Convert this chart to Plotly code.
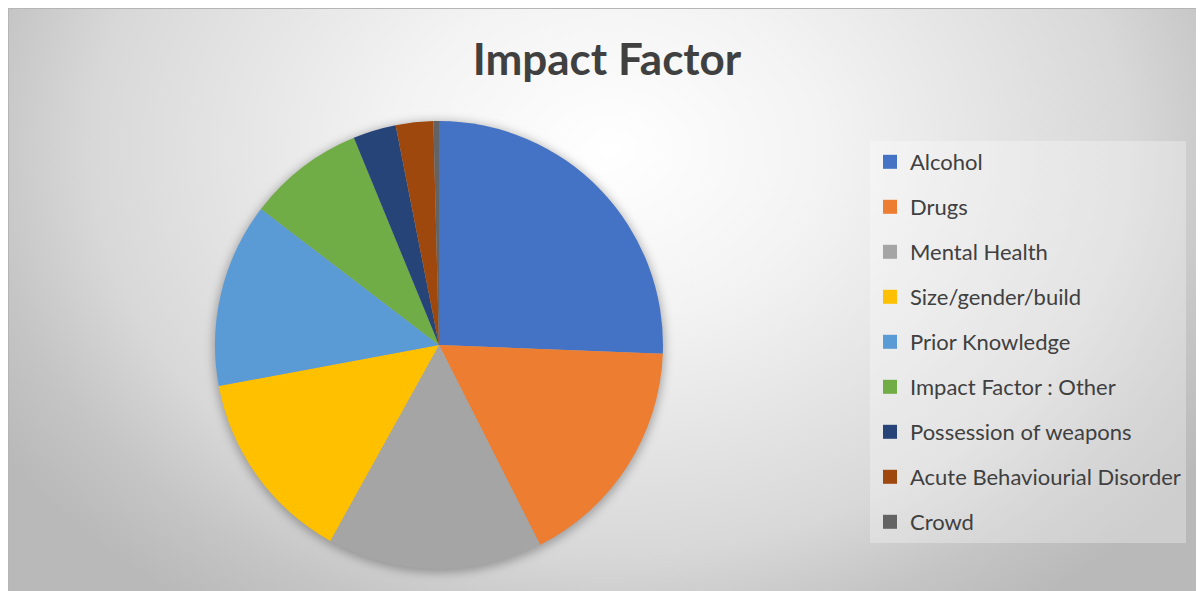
import base64
import plotly.graph_objects as go

# ---- data ----
labels = ["Alcohol", "Drugs", "Mental Health", "Size/gender/build", "Prior Knowledge",
          "Impact Factor : Other", "Possession of weapons", "Acute Behaviourial Disorder", "Crowd"]
values = [25.6, 16.9, 15.5, 14.0, 13.3, 8.4, 3.1, 2.7, 0.4]
colors = ["#4472C4", "#ED7D31", "#A5A5A5", "#FFC000", "#5B9BD5",
          "#70AD47", "#264478", "#9E480E", "#636363"]
title_text = "Impact Factor"

W, H = 1204, 591

# ---- background (radial gradient + soft pie shadow) as svg ----
svg = f'''<svg xmlns="http://www.w3.org/2000/svg" width="{W}" height="{H}" viewBox="0 0 {W} {H}" preserveAspectRatio="none">
<defs>
<radialGradient id="g" gradientUnits="userSpaceOnUse" cx="0" cy="0" r="1"
 gradientTransform="translate(602,142) scale(720,560)">
<stop offset="0" stop-color="#ffffff"/>
<stop offset="0.3" stop-color="#f3f3f3"/>
<stop offset="0.72" stop-color="#d8d8d8"/>
<stop offset="0.87" stop-color="#c5c5c5"/>
<stop offset="1" stop-color="#b9b9b9"/>
</radialGradient>
<filter id="b" x="-20%" y="-20%" width="140%" height="140%"><feGaussianBlur stdDeviation="5"/></filter>
</defs>
<rect x="0" y="0" width="{W}" height="{H}" fill="url(#g)"/>
<path d="M0.5,{H} L0.5,0.5 L{W},0.5" fill="none" stroke="#b5b5b5" stroke-width="1"/>
<circle cx="431" cy="339" r="226" fill="#000000" fill-opacity="0.28" filter="url(#b)"/>
</svg>'''
src = "data:image/svg+xml;base64," + base64.b64encode(svg.encode()).decode()

fig = go.Figure()

fig.add_trace(go.Pie(
    labels=labels, values=values, sort=False, direction="clockwise", rotation=0,
    marker=dict(colors=colors, line=dict(width=0)),
    textinfo="none", hoverinfo="label+percent", showlegend=False,
    domain=dict(x=[207 / W, 655 / W], y=[1 - 561 / H, 1 - 113 / H]),
))

# legend entries (one per category, so entries can be spaced like the original)
for lab, col in zip(labels, colors):
    fig.add_trace(go.Scatter(
        x=[None], y=[None], mode="markers", name=lab, legendgroup=lab,
        marker=dict(symbol="square", size=14, color=col),
        hoverinfo="skip",
    ))

fig.update_layout(
    width=W, height=H,
    margin=dict(l=0, r=0, t=0, b=0),
    paper_bgcolor="#ffffff", plot_bgcolor="rgba(0,0,0,0)",
    xaxis=dict(visible=False), yaxis=dict(visible=False),
    title=dict(text=f"<b>{title_text}</b>", x=599 / W, xanchor="center",
               y=1 - 52 / H, yanchor="middle",
               font=dict(family="Lato", size=44, color="#404040")),
    legend=dict(x=862 / W, y=1 - 133 / H, xanchor="left", yanchor="top",
                bgcolor="rgba(255,255,255,0.3)", tracegroupgap=13.4,
                font=dict(family="Lato", size=22, color="#404040"),
                itemclick=False, itemdoubleclick=False),
    images=[dict(source=src, xref="paper", yref="paper", x=0, y=1, sizex=1, sizey=1,
                 xanchor="left", yanchor="top", sizing="stretch", layer="below")],
    showlegend=True,
)

fig.write_html("out.html")
